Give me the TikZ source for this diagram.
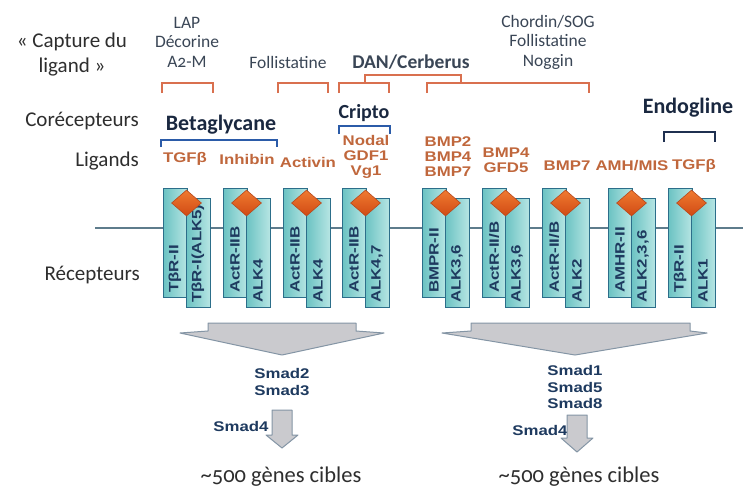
\documentclass[tikz,border=0pt]{standalone}
\usepackage{fontspec}
\setmainfont[Numbers=OldStyle]{Carlito}
\newfontfamily\ligfont[FakeStretch=1.2]{Liberation Sans}
\newfontfamily\recfont[FakeStretch=1.25]{Liberation Sans}
\usetikzlibrary{shapes.geometric}
\definecolor{boxedge}{HTML}{2C6E8A}
\definecolor{boxL}{HTML}{6CC3C3}
\definecolor{boxR}{HTML}{B8E6E4}
\definecolor{diaA}{HTML}{F07A30}
\definecolor{diaB}{HTML}{D04A14}
\definecolor{diaedge}{HTML}{B8481C}
\definecolor{memb}{HTML}{5E7C8C}
\definecolor{ligc}{HTML}{C0673C}
\definecolor{navy}{HTML}{1E3A5F}
\definecolor{darkn}{HTML}{1A2840}
\definecolor{txt}{HTML}{2E2E2E}
\definecolor{txtb}{HTML}{3A4656}
\definecolor{orbr}{HTML}{D9704F}
\definecolor{blbr}{HTML}{2B5BA8}
\definecolor{nvbr}{HTML}{1F3050}
\definecolor{arrf}{HTML}{CACACE}
\definecolor{arre}{HTML}{8495A5}
\tikzset{
  recbox/.style={draw=boxedge, line width=1.2pt, left color=boxL, right color=boxR,
    rectangle, minimum width=24pt, minimum height=109pt, inner sep=0pt, anchor=north west},
  diam/.style={diamond, draw=diaedge, line width=0.6pt, top color=diaA, bottom color=diaB,
    minimum width=30pt, minimum height=26pt, inner sep=0pt},
  reclab/.style={font=\recfont\bfseries\fontsize{13.5}{14}\selectfont, text=navy,
    rotate=90, anchor=west, inner sep=0pt},
  liglab/.style={font=\ligfont\bfseries\fontsize{14}{15}\selectfont, text=ligc,
    align=center, inner sep=0pt},
  smadlab/.style={font=\ligfont\bfseries\fontsize{14}{16.5}\selectfont, text=navy,
    align=center, inner sep=0pt},
  rowlab/.style={font=\fontsize{21}{25}\selectfont, text=txt, inner sep=0pt},
  toplab/.style={font=\fontsize{17.5}{19.5}\selectfont, text=txtb, align=center, inner sep=0pt},
  corlab/.style={font=\bfseries\fontsize{22}{24}\selectfont, text=darkn, inner sep=0pt},
  genlab/.style={font=\fontsize{22.5}{24}\selectfont, text=txt, inner sep=0pt},
  obr/.style={draw=orbr, line width=1.6pt},
  bbr/.style={draw=blbr, line width=1.8pt},
  nbr/.style={draw=nvbr, line width=1.6pt},
  bigarrow/.style={fill=arrf, draw=arre, line width=1pt, line join=round},
  membrane/.style={draw=memb, line width=2pt}
}
\begin{document}
\begin{tikzpicture}[x=1pt,y=-1pt]
\useasboundingbox (0,0) rectangle (743,488);
\fill[white] (0,0) rectangle (743,488);

% membrane
\coordinate (m1) at (95,228);
\coordinate (m2) at (743,228);
\draw[membrane] (m1) -- (m2);

% receptor pairs
\foreach \L/\a/\b [count=\i] in {
  163/TβR-II/TβR-I(ALK5),
  223/ActR-IIB/ALK4,
  283/ActR-IIB/ALK4,
  342/ActR-IIB/{ALK4,7},
  422/BMPR-II/{ALK3,6},
  482/{ActR-II/B}/{ALK3,6},
  542/{ActR-II/B}/ALK2,
  608/AMHR-II/{ALK2,3,6},
  668/TβR-II/ALK1}{
  \node[recbox] (ra\i) at (\L,188) {};
  \node[recbox] (rb\i) at (\L+23,198) {};
  \node[reclab] (la\i) at (\L+12,293) {\a};
  \node[reclab] (lb\i) at (\L+35,303) {\b};
  \node[diam] (d\i) at (\L+23.5,203) {};
}

% row labels
\node[rowlab, align=center] (capt) at (72,55) {« Capture du\\ligand »};
\node[rowlab, anchor=east] (corec) at (139,121) {Corécepteurs};
\node[rowlab, anchor=east] (ligs) at (139,161) {Ligands};
\node[rowlab, anchor=east] (recs) at (140,275) {Récepteurs};

% ligand traps
\node[toplab] (lap) at (187,42) {LAP\\Décorine\\A2-M};
\node[toplab] (foll) at (288,62) {Follistatine};
\node[font=\bfseries\fontsize{19.5}{21}\selectfont, text=txtb, inner sep=0pt] (dan) at (411,62) {DAN/Cerberus};
\node[toplab] (chord) at (548,42) {Chordin/SOG\\Follistatine\\Noggin};

\draw[obr] (162,93) -- (162,83) -- (213,83) -- (213,93);
\draw[obr] (278,93) -- (278,83) -- (328,83) -- (328,93);
\draw[obr] (339,93) -- (339,83) -- (389,83) -- (389,93);
\draw[obr] (427,93) -- (427,83) -- (589,83) -- (589,93);
\draw[obr] (365,83) -- (365,75) -- (461,75) -- (461,83);

% coreceptors
\node[corlab] (beta) at (221,125) {Betaglycane};
\node[corlab, font=\bfseries\fontsize{20}{22}\selectfont] (cripto) at (364,113) {Cripto};
\node[corlab] (endo) at (688,108) {Endogline};
\draw[bbr] (161,147) -- (161,140) -- (277,140) -- (277,147);
\draw[bbr] (339,134) -- (339,126) -- (390,126) -- (390,134);
\draw[nbr] (664,142) -- (664,132) -- (715,132) -- (715,142);

% ligands
\node[liglab] (g1) at (185,159) {TGFβ};
\node[liglab] (g2) at (247,159) {Inhibin};
\node[liglab] (g3) at (308,162) {Activin};
\node[liglab] (g4) at (366,157) {Nodal\\GDF1\\Vg1};
\node[liglab] (g5) at (448,157) {BMP2\\BMP4\\BMP7};
\node[liglab] (g6) at (506,160) {BMP4\\GFD5};
\node[liglab] (g7) at (567,166) {BMP7};
\node[liglab] (g8) at (632,166) {AMH/MIS};
\node[liglab] (g9) at (694,166) {TGFβ};

% big arrows
\draw[bigarrow] (208,323) -- (356,323) -- (356,331) -- (384,333) -- (282,355)
  -- (180,333) -- (208,331) -- cycle;
\draw[bigarrow] (471,323) -- (690,323) -- (690,331) -- (707,333) -- (575,355)
  -- (442,333) -- (471,331) -- cycle;

% smads
\node[smadlab] (s23) at (282,382) {Smad2\\Smad3};
\node[smadlab] (s158) at (575,387) {Smad1\\Smad5\\Smad8};
\node[smadlab] (s4a) at (241,426) {Smad4};
\node[smadlab] (s4b) at (540,430) {Smad4};

% small arrows
\draw[bigarrow] (272,410) -- (292,410) -- (292,435) -- (298,435) -- (282,448)
  -- (266,435) -- (272,435) -- cycle;
\draw[bigarrow] (567,415) -- (587,415) -- (587,438) -- (593,438) -- (577,452)
  -- (561,438) -- (567,438) -- cycle;

% target genes
\node[genlab] (gen1) at (281,477) {\textasciitilde500 gènes cibles};
\node[genlab] (gen2) at (579,477) {\textasciitilde500 gènes cibles};
\end{tikzpicture}
\end{document}
